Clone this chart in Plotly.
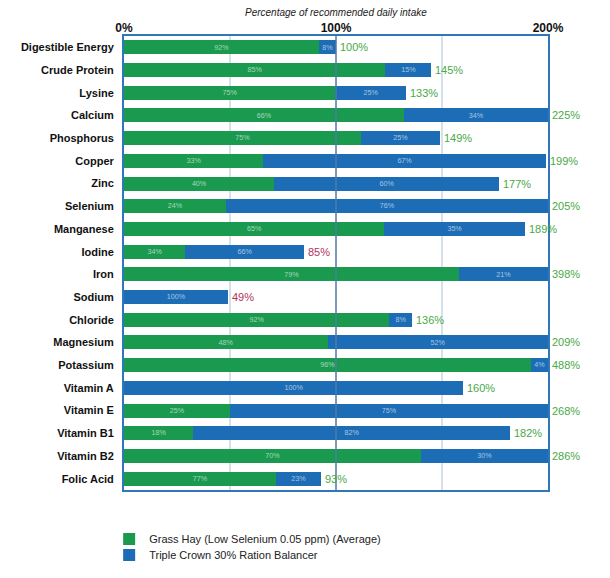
import plotly.graph_objects as go

categories = ["Digestible Energy", "Crude Protein", "Lysine", "Calcium", "Phosphorus",
              "Copper", "Zinc", "Selenium", "Manganese", "Iodine", "Iron", "Sodium",
              "Chloride", "Magnesium", "Potassium", "Vitamin A", "Vitamin E",
              "Vitamin B1", "Vitamin B2", "Folic Acid"]
total_pct = [100, 145, 133, 225, 149, 199, 177, 205, 189, 85, 398, 49,
             136, 209, 488, 160, 268, 182, 286, 93]
hay_share = [92, 85, 75, 66, 75, 33, 40, 24, 65, 34, 79, 0,
             92, 48, 96, 0, 25, 18, 70, 77]
balancer_share = [8, 15, 25, 34, 25, 67, 60, 76, 35, 66, 21, 100,
                  8, 52, 4, 100, 75, 82, 30, 23]
tick_vals = [0, 100, 200]
tick_text = ["0%", "100%", "200%"]
series_names = ["Grass Hay (Low Selenium 0.05 ppm) (Average)", "Triple Crown 30% Ration Balancer"]

X_MAX = 200
GREEN = "#1a9a4f"
BLUE = "#1d6db6"
FRAME = "#2f76bb"
FONT = "Liberation Sans, Arial, sans-serif"

shown = [min(t, X_MAX) for t in total_pct]
hay_x = [s * h / 100 for s, h in zip(shown, hay_share)]
bal_x = [s * b / 100 for s, b in zip(shown, balancer_share)]

fig = go.Figure()
fig.add_trace(go.Bar(
    y=categories, x=hay_x, orientation="h", name=series_names[0],
    marker=dict(color=GREEN, line=dict(width=0)),
    text=[f"{v}%" if v > 0 else "" for v in hay_share],
    textposition="inside", insidetextanchor="middle",
    textfont=dict(size=8, color="rgba(255,255,255,0.6)", family=FONT),
    width=0.62, hoverinfo="skip", legend="legend", showlegend=True))
fig.add_trace(go.Bar(
    y=categories, x=bal_x, orientation="h", name=series_names[1],
    marker=dict(color=BLUE, line=dict(width=0)),
    text=[f"{v}%" if v > 0 else "" for v in balancer_share],
    textposition="inside", insidetextanchor="middle",
    textfont=dict(size=8, color="rgba(255,255,255,0.6)", family=FONT),
    width=0.62, hoverinfo="skip", legend="legend2", showlegend=True))

for cat, x, t in zip(categories, shown, total_pct):
    fig.add_annotation(x=x, y=cat, xref="x", yref="y", text=f"{t}%", showarrow=False,
                       xanchor="left", yanchor="middle", xshift=2,
                       font=dict(size=11, family=FONT,
                                 color="#b2325c" if t < 90 else "#4aa847"))

# gridlines
for gx, col, lay in [(50, "#aac4dc", "below"), (150, "#aac4dc", "below"), (100, "#4f7aa3", "above")]:
    fig.add_shape(type="line", xref="x", yref="paper", x0=gx, x1=gx, y0=0, y1=1,
                  line=dict(color=col, width=1.5 if gx == 100 else 1), layer=lay)

fig.add_annotation(text="<i>Percentage of recommended daily intake</i>", xref="paper", yref="paper",
                   x=0.5, y=1 + 23 / 454, showarrow=False, xanchor="center", yanchor="middle",
                   font=dict(size=10, color="#222", family=FONT))

fig.update_layout(
    width=610, height=578, barmode="stack", showlegend=True,
    margin=dict(l=124, r=62, t=36, b=88, autoexpand=False),
    paper_bgcolor="white", plot_bgcolor="white",
    font=dict(family=FONT, color="#111"),
    xaxis=dict(range=[0, X_MAX], side="top", tickvals=tick_vals, ticktext=tick_text,
               tickfont=dict(size=12, family=FONT, color="#111", weight="bold"),
               showgrid=False, zeroline=False, showline=True, mirror=True,
               linecolor=FRAME, linewidth=2, ticks="", ticklabelstandoff=-3),
    yaxis=dict(autorange=False, range=[19.5, -0.5],
               tickfont=dict(size=11, family=FONT, color="#111", weight="bold"),
               showgrid=False, zeroline=False, showline=True, mirror=True,
               linecolor=FRAME, linewidth=2, ticks="", ticklabelstandoff=6),
    legend=dict(orientation="v", x=-0.035, xanchor="left", y=-49 / 454, yanchor="middle",
                font=dict(size=11, family=FONT, color="#222"), itemwidth=30, visible=True,
                bgcolor="rgba(0,0,0,0)"),
    legend2=dict(orientation="v", x=-0.035, xanchor="left", y=-65 / 454, yanchor="middle",
                 font=dict(size=11, family=FONT, color="#222"), itemwidth=30, visible=True,
                 bgcolor="rgba(0,0,0,0)"),
)

fig.write_html("out.html")
